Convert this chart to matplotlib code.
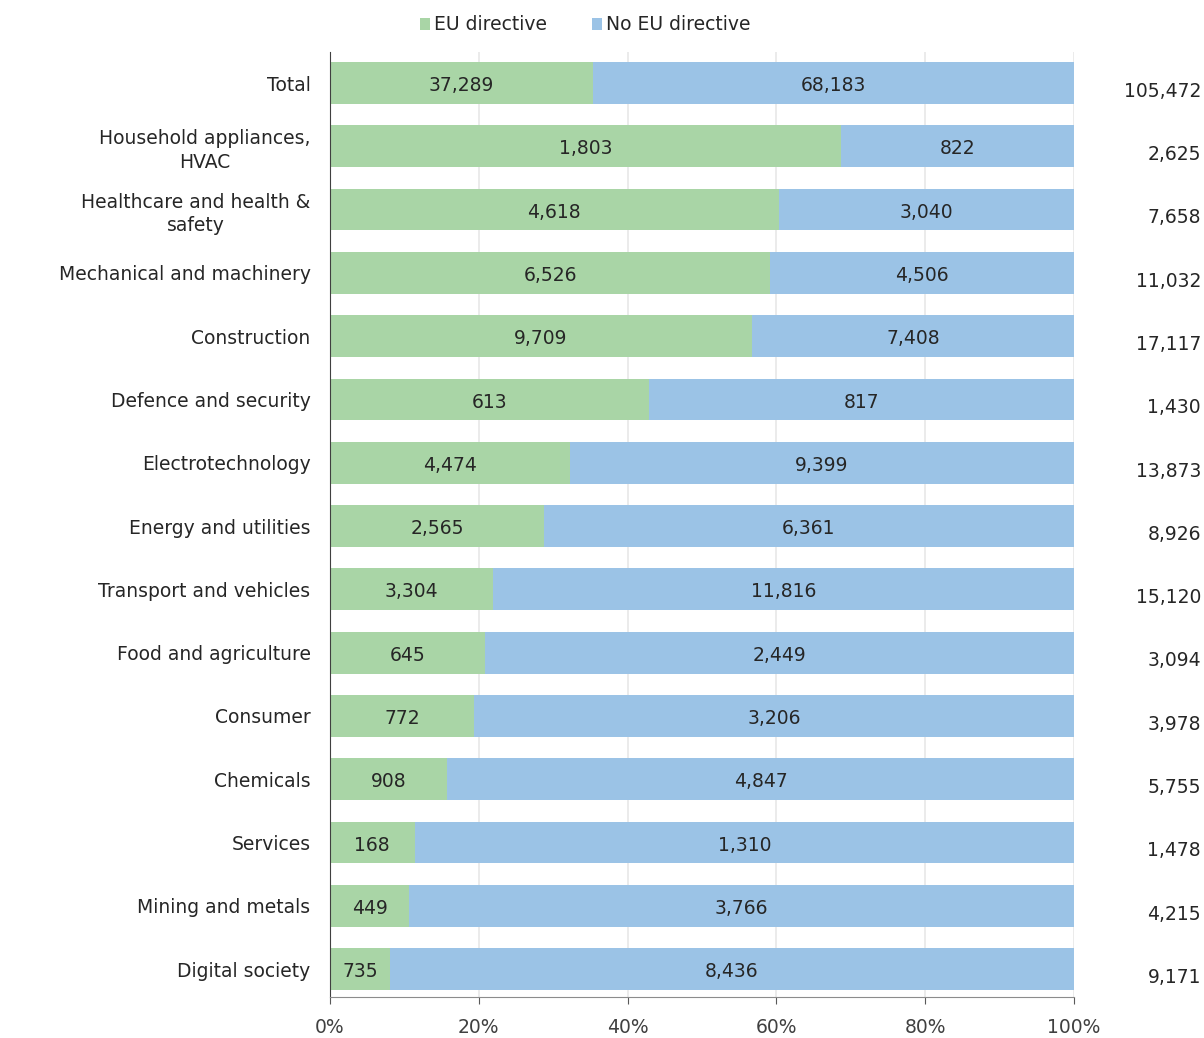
import numpy as np
import matplotlib
matplotlib.use('Agg')
import matplotlib.pyplot as plt
import matplotlib.transforms as mtransforms
from matplotlib.ticker import PercentFormatter

plt.rcParams['font.family'] = ['DejaVu Sans']

## Data
sectors = ['Total', 'Household appliances,\nHVAC', 'Healthcare and health &\nsafety',
           'Mechanical and machinery', 'Construction', 'Defence and security',
           'Electrotechnology', 'Energy and utilities', 'Transport and vehicles',
           'Food and agriculture', 'Consumer', 'Chemicals', 'Services',
           'Mining and metals', 'Digital society']
eu_directive = [37289, 1803, 4618, 6526, 9709, 613, 4474, 2565, 3304, 645, 772, 908, 168, 449, 735]
no_eu_directive = [68183, 822, 3040, 4506, 7408, 817, 9399, 6361, 11816, 2449, 3206, 4847, 1310, 3766, 8436]

eu = np.array(eu_directive, dtype=float)
no = np.array(no_eu_directive, dtype=float)
tot = eu + no
eu_pct = eu / tot * 100
no_pct = no / tot * 100

green = '#a9d5a6'
blue = '#9bc3e6'
txt = '#262626'
fs = 13.5

fig = plt.figure(figsize=(12.04, 10.38), dpi=100)
ax = fig.add_axes([330/1204, 1 - 997/1038, 744/1204, 945/1038])

y = np.arange(len(sectors))
b1 = ax.barh(y, eu_pct, height=0.66, color=green, label='EU directive', zorder=2)
b2 = ax.barh(y, no_pct, left=eu_pct, height=0.66, color=blue, label='No EU directive', zorder=2)

## numbers inside the bars
for i in range(len(sectors)):
    ax.text(eu_pct[i] / 2, y[i] + 0.04, '{:,}'.format(eu_directive[i]),
            ha='center', va='center', fontsize=fs, color=txt)
    ax.text(eu_pct[i] + no_pct[i] / 2, y[i] + 0.04, '{:,}'.format(no_eu_directive[i]),
            ha='center', va='center', fontsize=fs, color=txt)

## totals on the right
trans = mtransforms.blended_transform_factory(fig.transFigure, ax.transData)
for i in range(len(sectors)):
    ax.text(1201/1204, y[i] + 0.13, '{:,}'.format(int(tot[i])), transform=trans,
            ha='right', va='center', fontsize=fs, color=txt, clip_on=False)

ax.set_xlim(0, 100)
ax.set_ylim(len(sectors) - 0.56, -0.49)
ax.set_yticks(y)
ax.set_yticklabels(sectors, fontsize=fs, color=txt, linespacing=1.3,
                   multialignment='center')
ax.tick_params(axis='y', length=0, pad=14)
ax.set_xticks([0, 20, 40, 60, 80, 100])
ax.xaxis.set_major_formatter(PercentFormatter(decimals=0))
ax.tick_params(axis='x', labelsize=fs, colors='#595959', labelcolor='#404040', length=5, pad=10)

ax.grid(axis='x', color='#e8e8e8', linewidth=1.2, zorder=0)
ax.set_axisbelow(True)
for s in ['top', 'right']:
    ax.spines[s].set_visible(False)
ax.spines['left'].set_color('#404040')
ax.spines['bottom'].set_color('#8c8c8c')

fig.legend(handles=[b1, b2], labels=['EU directive', 'No EU directive'], loc='center',
           bbox_to_anchor=(585/1204, 1 - 25/1038), ncol=2, frameon=False, fontsize=fs,
           handlelength=0.55, handleheight=0.55, handletextpad=0.2, columnspacing=2.4,
           labelcolor=txt)

fig.savefig('out.png', dpi=100)
